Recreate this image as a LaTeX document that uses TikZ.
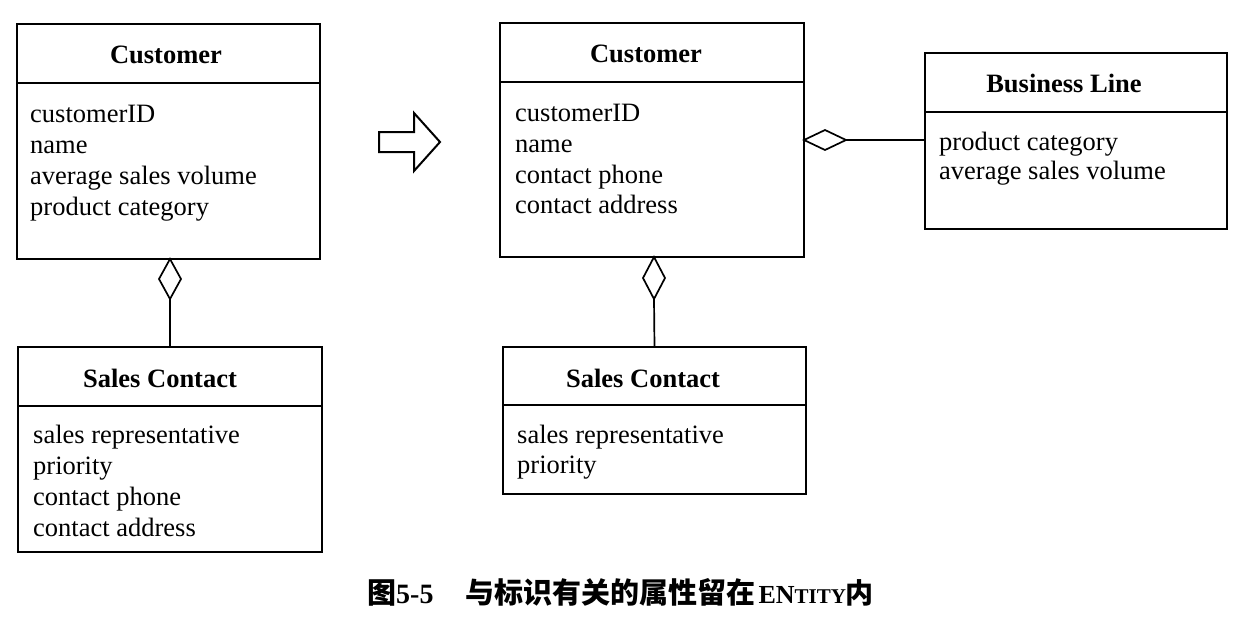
\documentclass[tikz,border=0pt]{standalone}
\usepackage{fontspec}
\setmainfont{Liberation Serif}
\newfontfamily\cjk{Noto Sans CJK SC}
\usetikzlibrary{shapes.geometric}
\begin{document}
\begin{tikzpicture}[x=1pt,y=-1pt,
  box/.style={draw=black, line width=2pt, rectangle, anchor=north west, inner sep=0pt, outer sep=0pt},
  hline/.style={draw=black, line width=2pt},
  ttl/.style={font=\fontsize{26.5}{30}\selectfont\bfseries, inner sep=0pt},
  attr/.style={font=\fontsize{26.5}{30}\selectfont, anchor=mid west, inner sep=0pt, yshift=-6pt},
  agg/.style={draw=black, line width=1.7pt, diamond, inner sep=0pt, outer sep=0pt, fill=white},
  conn/.style={draw=black, line width=1.7pt},
  bigarrow/.style={draw=black, line width=2pt, line join=miter, fill=white}]
\useasboundingbox (0,0) rectangle (1250,616);

% ---------- left: Customer ----------
\node[box, minimum width=303pt, minimum height=235pt] (lc) at (17,24) {};
\draw[hline] ([yshift=-59pt]lc.north west) -- ([yshift=-59pt]lc.north east);
\node[ttl] (lct) at (166,55) {Customer};
\node[attr] (lc1) at (30,114) {customerID};
\node[attr] (lc2) at (30,145) {name};
\node[attr] (lc3) at (30,176) {average sales volume};
\node[attr] (lc4) at (30,207) {product category};

% ---------- left: Sales Contact ----------
\node[box, minimum width=304pt, minimum height=205pt] (ls) at (18,347) {};
\draw[hline] ([yshift=-59pt]ls.north west) -- ([yshift=-59pt]ls.north east);
\node[ttl] (lst) at (160,378) {Sales Contact};
\node[attr] (ls1) at (33,435) {sales representative};
\node[attr] (ls2) at (33,466) {priority};
\node[attr] (ls3) at (33,497) {contact phone};
\node[attr] (ls4) at (33,528) {contact address};

% aggregation left
\node[agg, minimum width=22pt, minimum height=40pt, anchor=north] (ld) at (170,259) {};
\draw[conn] (ld.south) -- (ls.north);

% ---------- transformation arrow ----------
\draw[bigarrow] (379,132) -- (414,132) -- (414,113) -- (440,142) -- (414,171) -- (414,152) -- (379,152) -- cycle;

% ---------- right: Customer ----------
\node[box, minimum width=304pt, minimum height=234pt] (rc) at (500,23) {};
\draw[hline] ([yshift=-59pt]rc.north west) -- ([yshift=-59pt]rc.north east);
\node[ttl] (rct) at (646,54) {Customer};
\node[attr] (rc1) at (515,113) {customerID};
\node[attr] (rc2) at (515,144) {name};
\node[attr] (rc3) at (515,175) {contact phone};
\node[attr] (rc4) at (515,205) {contact address};

% ---------- right: Sales Contact ----------
\node[box, minimum width=303pt, minimum height=147pt] (rs) at (503,347) {};
\draw[hline] ([yshift=-58pt]rs.north west) -- ([yshift=-58pt]rs.north east);
\node[ttl] (rst) at (643,378) {Sales Contact};
\node[attr] (rs1) at (517,435) {sales representative};
\node[attr] (rs2) at (517,465) {priority};

\node[agg, minimum width=22pt, minimum height=42pt, anchor=north] (rd1) at (654,257) {};
\draw[conn] (rd1.south) -- (rs.north);

% ---------- right: Business Line ----------
\node[box, minimum width=302pt, minimum height=176pt] (bl) at (925,53) {};
\draw[hline] ([yshift=-59pt]bl.north west) -- ([yshift=-59pt]bl.north east);
\node[ttl] (blt) at (1064,83) {Business Line};
\node[attr] (bl1) at (939,142) {product category};
\node[attr] (bl2) at (939,171) {average sales volume};

\node[agg, minimum width=42pt, minimum height=20pt, anchor=west] (rd2) at (804,140) {};
\draw[conn] (rd2.east) -- (bl.west |- rd2.east);

% ---------- caption ----------
\node[anchor=base west, inner sep=0pt] (cap) at (367,603)
  {{\cjk\bfseries\fontsize{29}{32}\selectfont 图}{\bfseries\fontsize{28}{32}\selectfont 5-5}\hspace{32pt}{\cjk\bfseries\fontsize{29}{32}\selectfont 与标识有关的属性留在}\hspace{3pt}{\bfseries\fontsize{26}{32}\selectfont EN{\fontsize{21}{32}\selectfont TITY}}{\cjk\bfseries\fontsize{28}{32}\selectfont 内}};
\end{tikzpicture}
\end{document}
